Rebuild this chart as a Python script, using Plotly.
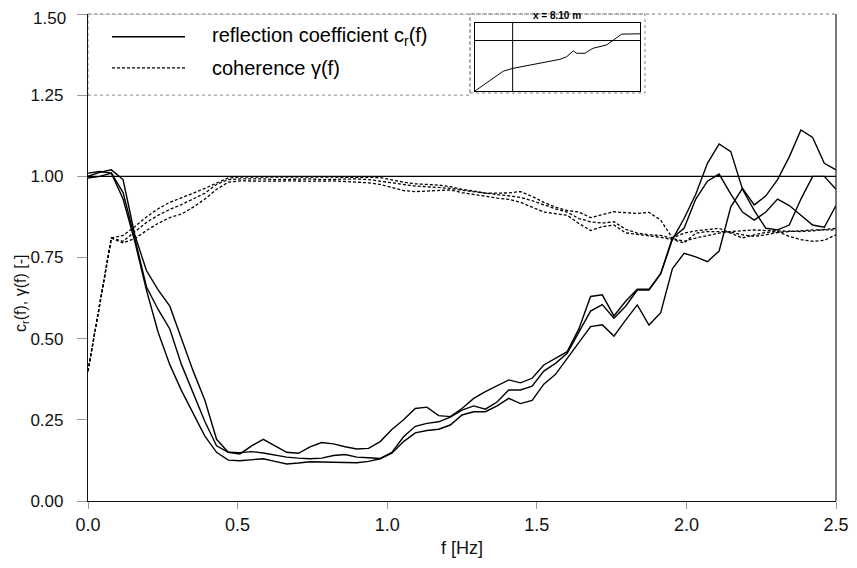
import plotly.graph_objects as go

# ---------------- data ----------------
freq = [0, 0.0391, 0.0781, 0.1172, 0.1563, 0.1953, 0.2344, 0.2734, 0.3125, 0.3516,
        0.3906, 0.4297, 0.4688, 0.5078, 0.5469, 0.5859, 0.625, 0.6641, 0.7031, 0.7422,
        0.7813, 0.8203, 0.8594, 0.8984, 0.9375, 0.9766, 1.0156, 1.0547, 1.0938, 1.1328,
        1.1719, 1.2109, 1.25, 1.2891, 1.3281, 1.3672, 1.4063, 1.4453, 1.4844, 1.5234,
        1.5625, 1.6016, 1.6406, 1.6797, 1.7188, 1.7578, 1.7969, 1.8359, 1.875, 1.9141,
        1.9531, 1.9922, 2.0313, 2.0703, 2.1094, 2.1484, 2.1875, 2.2266, 2.2656, 2.3047,
        2.3438, 2.3828, 2.4219, 2.4609, 2.5]

refl_a = [1.00, 1.012, 1.02, 0.99, 0.82, 0.71, 0.65, 0.60, 0.50, 0.40,
          0.31, 0.19, 0.15, 0.145, 0.17, 0.19, 0.17, 0.15, 0.147, 0.167,
          0.18, 0.176, 0.167, 0.16, 0.162, 0.183, 0.22, 0.25, 0.285, 0.289,
          0.263, 0.26, 0.285, 0.316, 0.337, 0.355, 0.373, 0.364, 0.378, 0.419,
          0.44, 0.46, 0.53, 0.63, 0.635, 0.57, 0.615, 0.652, 0.652, 0.70,
          0.805, 0.87, 0.945, 1.04, 1.10, 1.076, 0.96, 0.895, 0.84, 0.835,
          0.85, 0.93, 1.0, 1.0, 0.96]
refl_b = [1.01, 1.015, 1.01, 0.95, 0.81, 0.66, 0.59, 0.53, 0.42, 0.33,
          0.245, 0.17, 0.15, 0.149, 0.152, 0.148, 0.142, 0.135, 0.132, 0.13,
          0.132, 0.14, 0.143, 0.135, 0.133, 0.131, 0.15, 0.198, 0.23, 0.239,
          0.244, 0.258, 0.28, 0.293, 0.283, 0.305, 0.342, 0.342, 0.354, 0.40,
          0.424, 0.455, 0.52, 0.585, 0.605, 0.563, 0.60, 0.65, 0.65, 0.70,
          0.81, 0.84, 0.93, 0.985, 1.007, 0.945, 0.89, 0.865, 0.89, 0.93,
          0.91, 0.88, 0.85, 0.843, 0.91]
refl_c = [0.995, 1.0, 1.01, 0.93, 0.80, 0.65, 0.52, 0.42, 0.34, 0.27,
          0.20, 0.15, 0.126, 0.124, 0.127, 0.13, 0.122, 0.114, 0.117, 0.121,
          0.12, 0.119, 0.118, 0.118, 0.122, 0.13, 0.147, 0.183, 0.21, 0.217,
          0.221, 0.234, 0.265, 0.275, 0.275, 0.293, 0.316, 0.30, 0.31, 0.36,
          0.39, 0.44, 0.49, 0.537, 0.543, 0.508, 0.557, 0.604, 0.542, 0.58,
          0.715, 0.763, 0.752, 0.737, 0.77, 0.906, 0.963, 0.912, 0.94, 0.99,
          1.06, 1.143, 1.12, 1.04, 1.02]

coh_a = [0.40, 0.60, 0.81, 0.818, 0.845, 0.875, 0.90, 0.92, 0.933, 0.948,
         0.963, 0.98, 0.995, 0.998, 0.998, 0.999, 0.997, 0.997, 0.999, 0.998,
         0.997, 0.998, 0.999, 0.998, 0.997, 0.996, 0.988, 0.982, 0.977, 0.975,
         0.973, 0.968, 0.96, 0.955, 0.948, 0.948, 0.949, 0.953, 0.938, 0.92,
         0.905, 0.895, 0.89, 0.873, 0.883, 0.891, 0.888, 0.886, 0.889, 0.865,
         0.81, 0.825, 0.832, 0.836, 0.84, 0.825, 0.81, 0.82, 0.827, 0.83,
         0.815, 0.805, 0.80, 0.803, 0.82]
coh_b = [0.40, 0.60, 0.81, 0.80, 0.83, 0.858, 0.88, 0.898, 0.913, 0.93,
         0.948, 0.975, 0.99, 0.992, 0.993, 0.992, 0.99, 0.991, 0.993, 0.992,
         0.99, 0.991, 0.993, 0.992, 0.99, 0.985, 0.98, 0.975, 0.97, 0.968,
         0.965, 0.963, 0.957, 0.952, 0.948, 0.944, 0.94, 0.935, 0.925, 0.912,
         0.90, 0.89, 0.87, 0.86, 0.856, 0.86, 0.837, 0.825, 0.82, 0.818,
         0.809, 0.80, 0.81, 0.818, 0.825, 0.83, 0.833, 0.835, 0.833, 0.832,
         0.83, 0.83, 0.832, 0.836, 0.84]
coh_c = [0.40, 0.60, 0.81, 0.795, 0.808, 0.833, 0.855, 0.873, 0.884, 0.905,
         0.93, 0.96, 0.982, 0.986, 0.985, 0.984, 0.985, 0.986, 0.985, 0.984,
         0.985, 0.986, 0.984, 0.983, 0.98, 0.975, 0.965, 0.956, 0.953, 0.955,
         0.957, 0.958, 0.95, 0.944, 0.937, 0.933, 0.929, 0.92, 0.905, 0.89,
         0.885, 0.88, 0.855, 0.833, 0.845, 0.85, 0.826, 0.822, 0.817, 0.812,
         0.805, 0.795, 0.825, 0.83, 0.83, 0.828, 0.82, 0.815, 0.82, 0.827,
         0.83, 0.833, 0.835, 0.835, 0.835]

x_ticks = [0, 0.5, 1.0, 1.5, 2.0, 2.5]
x_ticktext = ["0.0", "0.5", "1.0", "1.5", "2.0", "2.5"]
y_ticks = [0, 0.25, 0.5, 0.75, 1.0, 1.25, 1.5]
y_ticktext = ["0.00", "0.25", "0.50", "0.75", "1.00", "1.25", "1.50"]

# inset: bottom profile (x in m, relative height), gauge position, water level
prof_x = [0, 6.09, 8.11, 12.54, 16.14, 18.29, 19.73, 20.81, 21.15, 21.88, 23.67,
          24.74, 25.45, 28.34, 29.41, 30.49, 31.56, 35.5]
prof_y = [0.0, 0.292, 0.332, 0.392, 0.441, 0.466, 0.504, 0.564, 0.589, 0.555, 0.555,
          0.604, 0.629, 0.678, 0.727, 0.777, 0.837, 0.841]
gauge_x = 8.10
water_level = 0.742

FONT = "Liberation Sans, Arial, sans-serif"
# page has an 8px body margin: the figure is drawn from (8,8) of the window
W, H = 849, 560
L, T = 80, 6
PW, PH = 748, 487
R, B = W - L - PW, H - T - PH


def px(xp):  # reference window pixel -> plot-paper fraction
    return (xp - 88) / PW


def py(yp):
    return (501 - yp) / PH


fig = go.Figure()

for ys in (refl_a, refl_b, refl_c):
    fig.add_trace(go.Scatter(x=freq, y=ys, mode="lines", showlegend=False,
                             line=dict(color="black", width=1.4)))
for ys in (coh_a, coh_b, coh_c):
    fig.add_trace(go.Scatter(x=freq, y=ys, mode="lines", showlegend=False,
                             line=dict(color="black", width=1.3, dash="3px,2px")))

# inset trace
fig.add_trace(go.Scatter(x=prof_x, y=prof_y, mode="lines", xaxis="x2", yaxis="y2",
                         showlegend=False, line=dict(color="black", width=1)))

shapes = []
# reference line at 1.0
shapes.append(dict(type="line", xref="x", yref="y", x0=0, x1=2.5, y0=1.0, y1=1.0,
                   line=dict(color="black", width=1.4)))
# frame: top dotted grey, right solid
shapes.append(dict(type="line", xref="paper", yref="paper", x0=0, x1=1, y0=1, y1=1,
                   line=dict(color="#777", width=1, dash="dot")))
shapes.append(dict(type="line", xref="paper", yref="paper", x0=1, x1=1, y0=0, y1=1,
                   line=dict(color="#222", width=1.2)))
# legend box
lx1 = px(470)
shapes.append(dict(type="rect", xref="paper", yref="y", x0=0, x1=lx1, y0=1.25, y1=1.5,
                   line=dict(color="#888", width=1, dash="dot"), layer="below"))
# inset outer box
shapes.append(dict(type="rect", xref="paper", yref="paper", x0=lx1, x1=px(645),
                   y0=py(93), y1=1.0,
                   line=dict(color="#888", width=1, dash="dot"), layer="below"))
# legend samples
sx0, sx1 = px(112), px(185)
shapes.append(dict(type="line", xref="paper", yref="y", x0=sx0, x1=sx1, y0=1.43, y1=1.43,
                   line=dict(color="black", width=1.6)))
shapes.append(dict(type="line", xref="paper", yref="y", x0=sx0, x1=sx1, y0=1.334, y1=1.334,
                   line=dict(color="black", width=1.3, dash="3px,2px")))
# inset: water level and gauge line
shapes.append(dict(type="line", xref="x2", yref="y2", x0=0, x1=35.5, y0=water_level, y1=water_level,
                   line=dict(color="black", width=1)))
shapes.append(dict(type="line", xref="x2", yref="y2", x0=gauge_x, x1=gauge_x, y0=0, y1=1,
                   line=dict(color="black", width=1)))

# top tick label drawn separately (nudged so it stays inside the page)
y_ticktext_axis = y_ticktext[:-1] + [""]

annotations = [
    dict(xref="paper", yref="y", x=px(210), y=1.43, xanchor="left", yanchor="middle",
         text="reflection coefficient c<sub>r</sub>(f)", showarrow=False,
         font=dict(family=FONT, size=20, color="black")),
    dict(xref="paper", yref="y", x=px(210), y=1.334, xanchor="left", yanchor="middle",
         text="coherence γ(f)", showarrow=False,
         font=dict(family=FONT, size=20, color="black")),
    dict(xref="paper", yref="paper", x=px(557), y=py(16), xanchor="center",
         yanchor="middle", text="<b>x = 8.10 m</b>", showarrow=False,
         font=dict(family=FONT, size=10, color="black")),
    dict(xref="paper", yref="y", x=0, y=y_ticks[-1], xanchor="right", yanchor="middle",
         xshift=-20, yshift=-4, text=y_ticktext[-1], showarrow=False,
         font=dict(family=FONT, size=17, color="#111")),
    # axis titles
    dict(xref="paper", yref="paper", x=px(462), y=py(548), xanchor="center", yanchor="middle",
         text="f [Hz]", showarrow=False, font=dict(family=FONT, size=18, color="#111")),
    dict(xref="paper", yref="paper", x=px(21), y=py(293), xanchor="center", yanchor="middle",
         text="c<sub>r</sub>(f), γ(f) [-]", textangle=-90, showarrow=False,
         font=dict(family=FONT, size=16, color="#111")),
]

fig.update_layout(
    width=W, height=H,
    margin=dict(l=L, r=R, t=T, b=B),
    paper_bgcolor="white", plot_bgcolor="white",
    font=dict(family=FONT, size=17, color="#111"),
    shapes=shapes, annotations=annotations,
    xaxis=dict(range=[0, 2.5], tickvals=x_ticks, ticktext=x_ticktext, ticks="outside",
               ticklen=7, tickcolor="#999", showgrid=False, zeroline=False,
               showline=True, linecolor="#111", linewidth=1.2, mirror=False,
               automargin=False, ticklabelstandoff=0, ticklabeloverflow="allow",
               tickfont=dict(size=18)),
    yaxis=dict(range=[0, 1.5], tickvals=y_ticks, ticktext=y_ticktext_axis, ticks="outside",
               ticklen=10, tickcolor="#999", showgrid=False, zeroline=False,
               showline=True, linecolor="#111", linewidth=1.2, mirror=False,
               automargin=False, ticklabelstandoff=10, ticklabeloverflow="allow",
               tickfont=dict(size=17)),
    xaxis2=dict(domain=[px(475), px(640)], anchor="y2", range=[0, 35.5],
                showticklabels=False, ticks="", showgrid=False, zeroline=False,
                showline=True, linecolor="black", linewidth=1, mirror=True),
    yaxis2=dict(domain=[py(91), py(23)], anchor="x2", range=[0, 1],
                showticklabels=False, ticks="", showgrid=False, zeroline=False,
                showline=True, linecolor="black", linewidth=1, mirror=True),
)

fig.write_html("out.html")
